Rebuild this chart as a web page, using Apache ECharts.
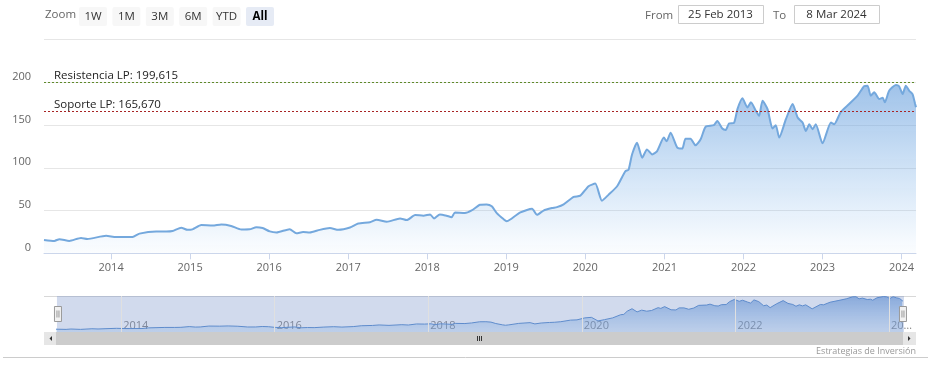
<!DOCTYPE html>
<html><head><meta charset="utf-8">
<script src="https://cdn.jsdelivr.net/npm/echarts@6/dist/echarts.min.js"></script>
<style>html,body{margin:0;padding:0;background:#fff}#c{width:928px;height:380px}</style>
</head><body><div id="c"></div>
<script>
const dates = ['2013-02-25','2013-04-14','2013-05-07','2013-06-22','2013-08-15','2013-09-13','2013-12-09',
'2014-01-24','2014-04-10','2014-05-12','2014-07-28','2014-09-13','2014-10-12','2014-11-21','2014-12-20',
'2015-01-12','2015-02-22','2015-04-15','2015-05-25','2015-07-10','2015-08-26','2015-10-03','2015-11-03','2015-12-02',
'2016-01-04','2016-02-04','2016-04-05','2016-05-06','2016-06-06','2016-07-07','2016-08-22','2016-10-08','2016-11-16',
'2017-01-09','2017-02-16','2017-04-11','2017-05-12','2017-06-28','2017-08-28','2017-09-28','2017-11-06','2017-12-14',
'2018-01-14','2018-02-01','2018-02-28','2018-03-31','2018-04-23','2018-05-09','2018-06-24','2018-07-25','2018-09-02','2018-10-02','2018-10-26','2018-11-18','2018-12-19',
'2019-01-03','2019-01-19','2019-03-07','2019-04-30','2019-05-23','2019-06-22','2019-07-31','2019-08-23','2019-09-23','2019-11-08','2019-12-09',
'2020-01-16','2020-02-16','2020-03-18','2020-04-18','2020-05-27','2020-07-04','2020-07-19','2020-08-04','2020-08-27','2020-09-20','2020-10-12','2020-11-05','2020-11-28','2020-12-29',
'2021-01-11','2021-01-29','2021-03-01','2021-03-24','2021-04-08','2021-05-01','2021-05-24','2021-06-17','2021-07-10','2021-08-17','2021-09-02','2021-09-25','2021-10-11','2021-10-26','2021-11-18','2021-12-04','2021-12-27',
'2022-01-19','2022-02-04','2022-02-27','2022-03-14','2022-03-30','2022-04-22','2022-05-15','2022-05-30','2022-06-15','2022-07-16','2022-08-16','2022-09-08','2022-10-01','2022-10-16','2022-11-01','2022-11-16','2022-12-01',
'2023-01-01','2023-02-09','2023-02-24','2023-03-27','2023-05-04','2023-06-12','2023-07-12','2023-07-28','2023-08-12','2023-08-28','2023-09-20','2023-10-06','2023-10-16','2023-11-05','2023-12-06','2023-12-21',
'2024-01-06','2024-01-21','2024-02-06','2024-02-21','2024-03-04','2024-03-08'];
const prices = [15.6,14.5,16.5,14.5,18.0,16.8,20.4,
19.0,19.2,23.0,25.4,25.4,26.0,30.0,27.4,
28.0,33.0,32.4,33.7,32.0,27.8,28.0,30.5,29.5,
25.6,24.3,28.2,23.5,24.8,24.3,27.4,29.5,27.4,
30.1,34.8,36.4,39.2,36.8,40.7,38.8,44.7,44.0,
45.5,40.7,45.5,44.0,42.2,47.8,47.0,50.1,56.8,57.2,54.9,47.0,40.0,
37.5,39.5,47.8,52.0,45.0,50.0,52.9,54.0,57.2,65.9,67.4,
78.4,81.5,61.5,68.6,78.4,96.0,97.8,115.6,129.4,111.7,121.5,115.6,119.5,135.3,
131.0,141.0,123.5,122.4,134.0,134.0,126.2,133.3,148.0,149.8,154.8,145.9,144.3,151.8,152.5,168.6,181.2,
170.6,176.5,166.6,160.7,178.4,168.6,145.9,149.8,135.3,156.8,174.5,158.8,152.9,143.0,151.0,145.0,151.0,
128.6,152.9,151.0,165.4,174.5,184.3,195.3,196.0,184.3,188.2,180.4,182.0,176.5,190.0,196.8,195.3,
186.2,196.0,190.0,186.2,174.5,170.7];
const resistance = 199.615;
const support = 165.670;
const yTicks = [0, 50, 100, 150, 200, 250];
const navGridDates = ['2014-01-01','2016-01-01','2018-01-01','2020-01-01','2022-01-01','2024-01-01'];
const zoomButtons = ['1W', '1M', '3M', '6M', 'YTD', 'All'];
const selectedButton = 'All';
const rangeFrom = '25 Feb 2013';
const rangeTo = '8 Mar 2024';
const credit = 'Estrategias de Inversión';

const FONT = '"Open Sans", sans-serif';
const seriesData = dates.map((d, i) => [d, prices[i]]);
const fmt = v => v.toFixed(3).replace('.', ',');
const navYears = navGridDates.map(d => +d.slice(0, 4));

const graphics = [];
graphics.push({type:'text', left:45, top:9, style:{text:'Zoom', fill:'#666', font:'11.5px ' + FONT}});
zoomButtons.forEach((b, i) => {
  const x = 79 + i * 33.4;
  const sel = b === selectedButton;
  graphics.push({type:'rect', shape:{x:x, y:7, width:28, height:19, r:2}, style:{fill: sel ? '#e6ebf5' : '#f7f7f7'}});
  graphics.push({type:'text', x:x + 14, y:16.5, style:{text:b, fill: sel ? '#000' : '#333', font:(sel ? 'bold ' : '') + '11.5px ' + FONT, align:'center', verticalAlign:'middle'}});
});
graphics.push({type:'text', x:645, y:16, style:{text:'From', fill:'#666', font:'11.5px ' + FONT, verticalAlign:'middle'}});
graphics.push({type:'rect', shape:{x:678.5, y:5.5, width:85, height:18}, style:{fill:'#fff', stroke:'#ccc', lineWidth:1}});
graphics.push({type:'text', x:720.5, y:15, style:{text:rangeFrom, fill:'#333', font:'11.5px ' + FONT, align:'center', verticalAlign:'middle'}});
graphics.push({type:'text', x:773, y:16, style:{text:'To', fill:'#666', font:'11.5px ' + FONT, verticalAlign:'middle'}});
graphics.push({type:'rect', shape:{x:794.5, y:5.5, width:85, height:18}, style:{fill:'#fff', stroke:'#ccc', lineWidth:1}});
graphics.push({type:'text', x:836.5, y:15, style:{text:rangeTo, fill:'#333', font:'11.5px ' + FONT, align:'center', verticalAlign:'middle'}});
graphics.push({type:'line', shape:{x1:44, y1:296.5, x2:916, y2:296.5}, style:{stroke:'#d8d8d8', lineWidth:1}});
graphics.push({type:'rect', shape:{x:44, y:332, width:872, height:13}, style:{fill:'#f2f2f2'}});
graphics.push({type:'rect', shape:{x:56, y:332, width:847, height:13}, style:{fill:'#cccccc'}});
graphics.push({type:'rect', shape:{x:44, y:332, width:12, height:13}, style:{fill:'#e6e6e6'}});
graphics.push({type:'rect', shape:{x:903, y:332, width:13, height:13}, style:{fill:'#e6e6e6'}});
graphics.push({type:'polygon', shape:{points:[[52,336],[52,341],[49.5,338.5]]}, style:{fill:'#333'}});
graphics.push({type:'polygon', shape:{points:[[908,336],[908,341],[910.5,338.5]]}, style:{fill:'#333'}});
[477.5, 479.5, 481.5].forEach(x => graphics.push({type:'line', shape:{x1:x, y1:336, x2:x, y2:341}, style:{stroke:'#333', lineWidth:1}}));
graphics.push({type:'line', shape:{x1:3, y1:357.5, x2:928, y2:357.5}, style:{stroke:'#ccc', lineWidth:1}});
graphics.push({type:'text', x:916, y:351, style:{text:credit, fill:'#999', font:'9px ' + FONT, align:'right', verticalAlign:'middle'}});

const chart = echarts.init(document.getElementById('c'), null, {renderer:'canvas'});
chart.setOption({
  animation:false,
  textStyle:{fontFamily:FONT},
  grid:[
    {left:44, right:12, top:39.5, height:213.8},
    {left:56, right:25, top:296, height:36}
  ],
  xAxis:[
    {type:'time', gridIndex:0, min:dates[0], max:dates[dates.length-1], splitNumber:12,
     axisLine:{lineStyle:{color:'#ccd6eb'}}, axisTick:{show:true, length:6, lineStyle:{color:'#ccd6eb'}},
     splitLine:{show:false},
     axisLabel:{color:'#666', fontSize:11, margin:9, formatter:v => String(new Date(v).getFullYear()), hideOverlap:false}},
    {type:'time', gridIndex:1, min:dates[0], max:dates[dates.length-1], splitNumber:12,
     axisLine:{show:false}, axisTick:{show:false},
     splitLine:{show:false},
     axisLabel:{inside:true, color:'#888', fontSize:11, margin:1, align:'left', padding:[0,0,0,2], hideOverlap:false,
       formatter:v => { const d = new Date(v); const y = d.getFullYear();
         if (d.getMonth() !== 0 || navYears.indexOf(y) < 0) return '';
         return y === navYears[navYears.length-1] ? '20…' : String(y); }}}
  ],
  yAxis:[
    {type:'value', gridIndex:0, min:yTicks[0], max:yTicks[yTicks.length-1], interval:50,
     axisLine:{show:false}, axisTick:{show:false},
     splitLine:{lineStyle:{color:'#e6e6e6'}},
     axisLabel:{color:'#666', fontSize:11, margin:13, showMaxLabel:false, verticalAlign:'bottom'}},
    {type:'value', gridIndex:1, min:0, max:200, show:false}
  ],
  dataZoom:[{
    type:'slider', xAxisIndex:0, filterMode:'none', start:0, end:100,
    left:56, right:25, top:296, height:36,
    backgroundColor:'rgba(0,0,0,0)', borderColor:'transparent',
    fillerColor:'rgba(102,133,194,0.3)',
    showDataShadow:false, showDetail:false, brushSelect:false, moveHandleSize:0,
    handleIcon:'path://M-3.5,-7.5H3.5V7.5H-3.5Z M-1,-3.5V3.5 M1,-3.5V3.5',
    handleSize:15,
    handleStyle:{color:'#f2f2f2', borderColor:'#999', borderWidth:1},
    zoomLock:true
  }],
  graphic:graphics,
  series:[
    {type:'line', xAxisIndex:0, yAxisIndex:0, data:seriesData, symbol:'none', smooth:0.2,
     lineStyle:{color:'#74a8dd', width:2},
     areaStyle:{color:new echarts.graphic.LinearGradient(0,0,0,1,[
       {offset:0, color:'rgba(112,164,222,0.95)'},
       {offset:1, color:'rgba(124,181,236,0.04)'}])},
     markLine:{silent:true, symbol:['none','none'], animation:false,
       data:[
        {yAxis:resistance, lineStyle:{color:'#5f8a2a', type:[2,2], width:1},
         label:{show:true, position:'insideStartTop', formatter:'Resistencia LP: ' + fmt(resistance), color:'#222', fontSize:11.5, distance:[10,1]}},
        {yAxis:support, lineStyle:{color:'#a82424', type:[2,2], width:1},
         label:{show:true, position:'insideStartTop', formatter:'Soporte LP: ' + fmt(support), color:'#222', fontSize:11.5, distance:[10,1]}}
       ]}},
    {type:'line', xAxisIndex:1, yAxisIndex:1, data:seriesData, symbol:'none', silent:true,
     lineStyle:{color:'#5b8fd0', width:1},
     areaStyle:{color:new echarts.graphic.LinearGradient(0,0,0,1,[
       {offset:0, color:'rgba(100,150,215,0.95)'},
       {offset:1, color:'rgba(124,181,236,0.3)'}])},
     markLine:{silent:true, symbol:['none','none'], animation:false, label:{show:false},
       lineStyle:{color:'#e0e0e0', type:'solid', width:1},
       data:navGridDates.map(d => ({xAxis:d}))}}
  ]
});
</script></body></html>
